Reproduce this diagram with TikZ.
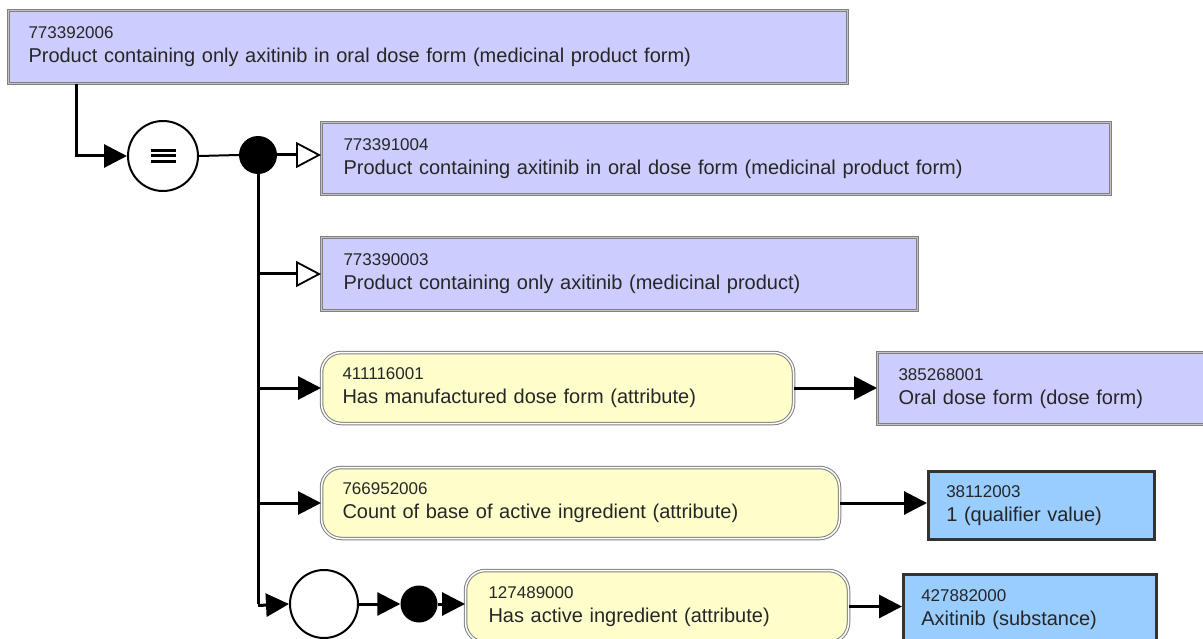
\documentclass[tikz,border=0pt]{standalone}
\usepackage{fontspec}
\setmainfont{Liberation Sans}
\usetikzlibrary{arrows.meta}
\definecolor{pfill}{HTML}{CCCCFF}
\definecolor{yfill}{HTML}{FFFFCC}
\definecolor{bfill}{HTML}{99CCFF}
\definecolor{bordg}{HTML}{7F7F7F}
\definecolor{bordl}{HTML}{C4C4C4}
\newcommand{\cpt}[2]{{\fontsize{17}{24}\selectfont #1}\\#2}
\begin{document}
\begin{tikzpicture}[x=1pt,y=-1pt,
  base/.style={anchor=north west, inner ysep=0pt, align=left, text=black!85,
     font=\fontsize{20}{24}\selectfont},
  pbox/.style={base, rectangle, fill=pfill, draw=bordg, double=bordl, double distance=1.5pt, line width=1pt},
  ybox/.style={base, rectangle, rounded corners=20pt, fill=yfill, draw=bordg, double=white, double distance=1.5pt, line width=1pt},
  bbox/.style={base, rectangle, fill=bfill, draw=black!80, line width=2.5pt},
  conn/.style={line width=3pt, draw=black},
  arr/.style={conn, -{Triangle[length=23pt,width=23pt]}},
  oarr/.style={conn, -{Triangle[length=25pt,width=26pt,fill=white,line width=1.8pt]}},
  ring/.style={circle, draw=black, line width=2pt, fill=white, inner sep=0pt},
  dot/.style={circle, fill=black, inner sep=0pt}
]
\useasboundingbox (0,0) rectangle (1203,639);

\node[pbox, minimum width=839pt, minimum height=73pt, inner xsep=20pt, text width=799pt] (top) at (8,10)
  {\cpt{773392006}{Product containing only axitinib in oral dose form (medicinal product form)}};
\node[pbox, minimum width=789pt, minimum height=72pt, inner xsep=22pt, text width=745pt] (b2) at (321,122)
  {\cpt{773391004}{Product containing axitinib in oral dose form (medicinal product form)}};
\node[pbox, minimum width=596pt, minimum height=73pt, inner xsep=22pt, text width=552pt] (b3) at (321,237)
  {\cpt{773390003}{Product containing only axitinib (medicinal product)}};
\node[ybox, minimum width=472pt, minimum height=71pt, inner xsep=21pt, text width=430pt] (y4) at (321,352)
  {\cpt{411116001}{Has manufactured dose form (attribute)}};
\node[pbox, minimum width=340pt, minimum height=72pt, inner xsep=21pt, text width=298pt] (b5) at (877,352)
  {\cpt{385268001}{Oral dose form (dose form)}};
\node[ybox, minimum width=518pt, minimum height=71pt, inner xsep=21pt, text width=476pt] (y6) at (321,467)
  {\cpt{766952006}{Count of base of active ingredient (attribute)}};
\node[bbox, minimum width=226pt, minimum height=68pt, inner xsep=18pt, text width=190pt] (c7) at (927,470)
  {\cpt{38112003}{1 (qualifier value)}};
\node[ybox, minimum width=383pt, minimum height=72pt, inner xsep=23pt, text width=337pt] (y8) at (465,570)
  {\cpt{127489000}{Has active ingredient (attribute)}};
\node[bbox, minimum width=253pt, minimum height=70pt, inner xsep=18pt, text width=217pt] (c9) at (902,573)
  {\cpt{427882000}{Axitinib (substance)}};

\node[ring, minimum size=70pt] (eq) at (163,156) {};
\node[dot, minimum size=38pt] (d1) at (258,155) {};
\node[ring, minimum size=68pt] (or1) at (324,604) {};
\node[dot, minimum size=37pt] (d2) at (419,604) {};

\foreach \dy in {-5.5,0,5.5}
  \draw[line width=3pt] ([shift={(-12.5,\dy)}]eq.center) -- ([shift={(12.5,\dy)}]eq.center);

\coordinate (tdrop) at ([xshift=68pt]top.south west);
\coordinate (vb) at (d1 |- or1);

\draw[arr] (tdrop) |- (eq.west);
\draw[conn, line width=2pt] (eq.east) -- (d1.west);
\draw[oarr] (d1.east) -- (d1 -| b2.west);
\draw[conn] (d1.south) -- (vb);
\draw[oarr] (d1 |- b3.west) -- (b3.west);
\draw[arr] (d1 |- y4.west) -- (y4.west);
\draw[arr] (d1 |- y6.west) -- (y6.west);
\draw[arr] ([yshift=-1.5pt]vb) -- (or1.west);
\draw[arr] (y4.east) -- (y4.east -| b5.west);
\draw[arr] (y6.east) -- (y6.east -| c7.west);
\draw[arr] (or1.east) -- (d2.west);
\draw[arr] (d2.east) -- (d2 -| y8.west);
\draw[arr] (y8.east) -- (y8.east -| c9.west);
\end{tikzpicture}
\end{document}
